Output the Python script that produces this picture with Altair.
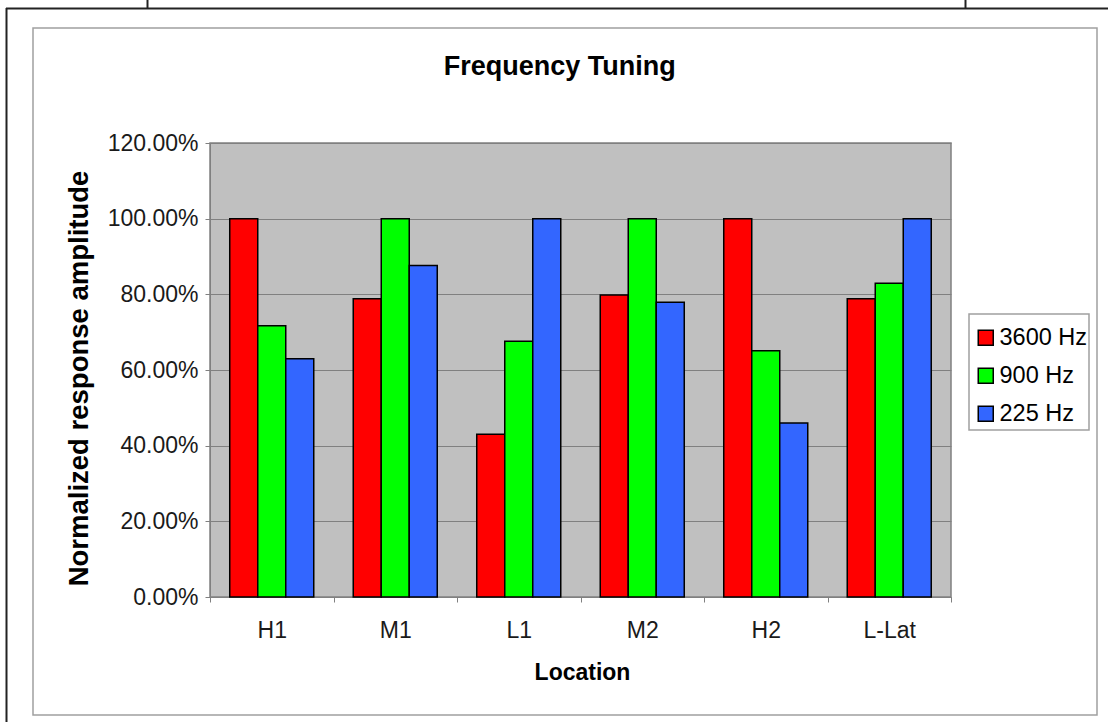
import altair as alt
import pandas as pd

locations = ["H1", "M1", "L1", "M2", "H2", "L-Lat"]
series = ["3600 Hz", "900 Hz", "225 Hz"]
hz3600 = [100.0, 78.8, 43.0, 79.8, 100.0, 78.8]
hz900 = [71.7, 100.0, 67.6, 100.0, 65.1, 82.9]
hz225 = [63.0, 87.6, 100.0, 77.9, 46.0, 100.0]
colors = ["#FF0000", "#00FF00", "#3366FF"]
y_ticks = [0, 0.2, 0.4, 0.6, 0.8, 1.0, 1.2]

rows = []
for name, vals in zip(series, [hz3600, hz900, hz225]):
    for loc, v in zip(locations, vals):
        rows.append({"Location": loc, "Series": name, "Value": v / 100})
df = pd.DataFrame(rows)

FONT = "Liberation Sans"
GRAY = "#808080"

bars = alt.Chart(df).mark_bar(stroke="black", strokeWidth=1.5).encode(
    x=alt.X(
        "Location:N",
        sort=locations,
        scale=alt.Scale(paddingInner=0, paddingOuter=0),
        axis=alt.Axis(
            title="Location",
            labelAngle=0,
            tickBand="extent",
            grid=False,
            labelFont=FONT,
            labelFontSize=23,
            labelColor="#1a1a1a",
            labelPadding=17,
            tickSize=5,
            tickColor=GRAY,
            domainColor=GRAY,
            titleFont=FONT,
            titleFontSize=23,
            titleFontWeight="bold",
            titleColor="black",
            titleX=372,
            titleY=75,
            titleAlign="center",
            titleBaseline="middle",
        ),
    ),
    xOffset=alt.XOffset(
        "Series:N", sort=series, scale=alt.Scale(paddingInner=0, paddingOuter=0.705)
    ),
    y=alt.Y(
        "Value:Q",
        scale=alt.Scale(domain=[0, 1.2], nice=False),
        axis=alt.Axis(
            title="Normalized response amplitude",
            values=y_ticks,
            format=".2%",
            grid=True,
            gridColor=GRAY,
            gridWidth=1,
            labelFont=FONT,
            labelFontSize=23,
            labelColor="#1a1a1a",
            labelPadding=7,
            tickSize=5,
            tickColor=GRAY,
            domainColor=GRAY,
            titleFont=FONT,
            titleFontSize=27.5,
            titleFontWeight="bold",
            titleColor="black",
            titleAngle=270,
            titleX=-131,
            titleY=235,
            titleAlign="center",
            titleBaseline="middle",
        ),
    ),
    color=alt.Color(
        "Series:N",
        sort=series,
        scale=alt.Scale(domain=series, range=colors),
        legend=alt.Legend(
            title=None,
            orient="none",
            legendX=764,
            legendY=183,
            padding=0,
            strokeColor="transparent",
            symbolType="square",
            symbolSize=225,
            symbolStrokeColor="black",
            symbolStrokeWidth=1.5,
            labelFont=FONT,
            labelFontSize=23.5,
            labelColor="black",
            rowPadding=13,
            labelOffset=2,
        ),
    ),
)

one = alt.Data(values=[{"k": 1}])
legend_box = alt.Chart(one).mark_rect(fill="white", stroke="#A0A0A0", strokeWidth=1.5).encode(
    x=alt.value(759), x2=alt.value(879), y=alt.value(171), y2=alt.value(287)
)
frame = alt.Chart(one).mark_rect(filled=False, stroke="#A0A0A0", strokeWidth=1.5).encode(
    x=alt.value(-177), x2=alt.value(887), y=alt.value(-115), y2=alt.value(572)
)
top_line = alt.Chart(one).mark_rule(color="#222222", strokeWidth=2).encode(
    x=alt.value(-204), x2=alt.value(898), y=alt.value(-134.5)
)
left_line = alt.Chart(one).mark_rule(color="#222222", strokeWidth=2).encode(
    x=alt.value(-203.5), y=alt.value(-135), y2=alt.value(579)
)
tick_a = alt.Chart(one).mark_rule(color="#222222", strokeWidth=2).encode(
    x=alt.value(-62.5), y=alt.value(-143), y2=alt.value(-135)
)
tick_b = alt.Chart(one).mark_rule(color="#222222", strokeWidth=2).encode(
    x=alt.value(755.5), y=alt.value(-143), y2=alt.value(-135)
)
title = alt.Chart(one).mark_text(
    text="Frequency Tuning",
    font=FONT,
    fontSize=27,
    fontWeight="bold",
    color="black",
    align="center",
    baseline="alphabetic",
).encode(x=alt.value(349.7), y=alt.value(-68))

chart = alt.layer(bars, legend_box, frame, top_line, left_line, tick_a, tick_b, title).properties(
    width=741,
    height=454,
    autosize=alt.AutoSizeParams(type="none"),
    padding={"left": 210, "top": 143, "right": 157, "bottom": 125},
    background="white",
).configure_view(fill="#C0C0C0", stroke=GRAY, strokeWidth=1.5)

chart.save("out.html", embed_options={"renderer": "svg", "actions": False})
